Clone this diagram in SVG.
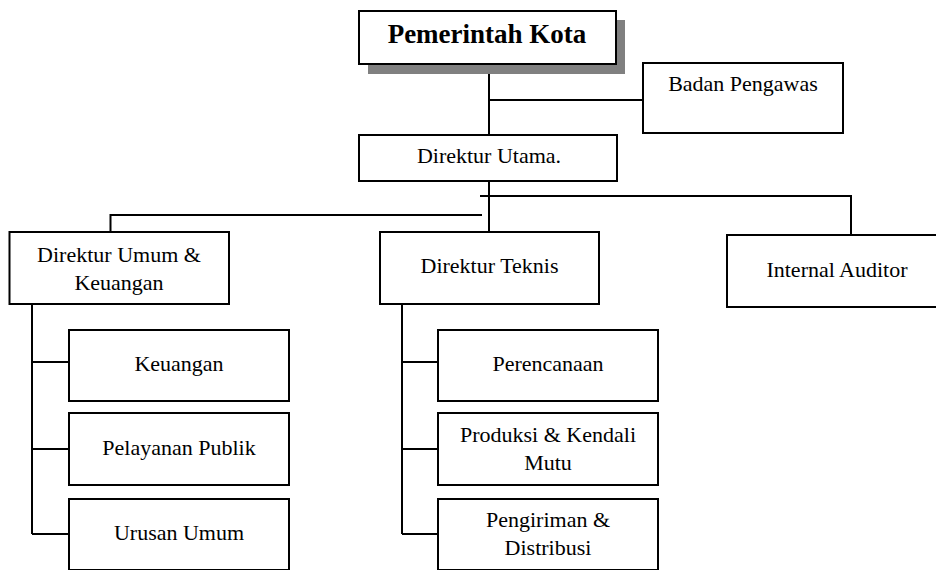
<svg xmlns="http://www.w3.org/2000/svg" width="936" height="570" viewBox="0 0 936 570">
<style>
.box{fill:#fff;stroke:#000;stroke-width:2}
.ln{stroke:#000;stroke-width:2;fill:none}
text{font-family:'Liberation Serif','Times New Roman','DejaVu Serif',serif;fill:#000;text-anchor:middle}
.t{font-size:22px}
.tb{font-size:27px;font-weight:bold}
</style>
<rect width="936" height="570" fill="#fff"/>
<g id="connectors">
<path class="ln" d="M489 64V135M489 100H643M489 181V232M480 196H851V235M482 215H110.5V232"/>
<path class="ln" d="M32 304V534M32 362H69M32 449H69M32 534H69"/>
<path class="ln" d="M402 304V534M402 362H438M402 449H438M402 534H438"/>
</g>
<g id="pemerintah">
<rect x="368" y="20" width="257" height="54" fill="#808080"/>
<rect class="box" x="359" y="11" width="257" height="53"/>
<text class="tb" x="487" y="43" font-family="Liberation Serif, serif">Pemerintah Kota</text>
</g>
<g id="badan">
<rect class="box" x="643" y="63" width="200" height="70"/>
<text class="t" x="743" y="91" font-family="Liberation Serif, serif">Badan Pengawas</text>
</g>
<g id="utama">
<rect class="box" x="359" y="135" width="258" height="46"/>
<text class="t" x="489" y="163" font-family="Liberation Serif, serif">Direktur Utama.</text>
</g>
<g id="umum">
<rect class="box" x="9.5" y="232" width="219.5" height="72"/>
<text class="t" x="119" y="262" font-family="Liberation Serif, serif">Direktur Umum &amp;</text>
<text class="t" x="119" y="290" font-family="Liberation Serif, serif">Keuangan</text>
</g>
<g id="teknis">
<rect class="box" x="380" y="232" width="219" height="72"/>
<text class="t" x="489.5" y="273" font-family="Liberation Serif, serif">Direktur Teknis</text>
</g>
<g id="auditor">
<rect class="box" x="727" y="235" width="220" height="72"/>
<text class="t" x="837" y="277" font-family="Liberation Serif, serif">Internal Auditor</text>
</g>
<g id="keuangan">
<rect class="box" x="69" y="330" width="220" height="71"/>
<text class="t" x="179" y="371" font-family="Liberation Serif, serif">Keuangan</text>
</g>
<g id="pelayanan">
<rect class="box" x="69" y="413" width="220" height="72"/>
<text class="t" x="179" y="455" font-family="Liberation Serif, serif">Pelayanan Publik</text>
</g>
<g id="urusan">
<rect class="box" x="69" y="499" width="220" height="71"/>
<text class="t" x="179" y="540" font-family="Liberation Serif, serif">Urusan Umum</text>
</g>
<g id="perencanaan">
<rect class="box" x="438" y="330" width="220" height="71"/>
<text class="t" x="548" y="371" font-family="Liberation Serif, serif">Perencanaan</text>
</g>
<g id="produksi">
<rect class="box" x="438" y="413" width="220" height="72"/>
<text class="t" x="548" y="442" font-family="Liberation Serif, serif">Produksi &amp; Kendali</text>
<text class="t" x="548" y="470" font-family="Liberation Serif, serif">Mutu</text>
</g>
<g id="pengiriman">
<rect class="box" x="438" y="499" width="220" height="71"/>
<text class="t" x="548" y="527" font-family="Liberation Serif, serif">Pengiriman &amp;</text>
<text class="t" x="548" y="555" font-family="Liberation Serif, serif">Distribusi</text>
</g>
</svg>
